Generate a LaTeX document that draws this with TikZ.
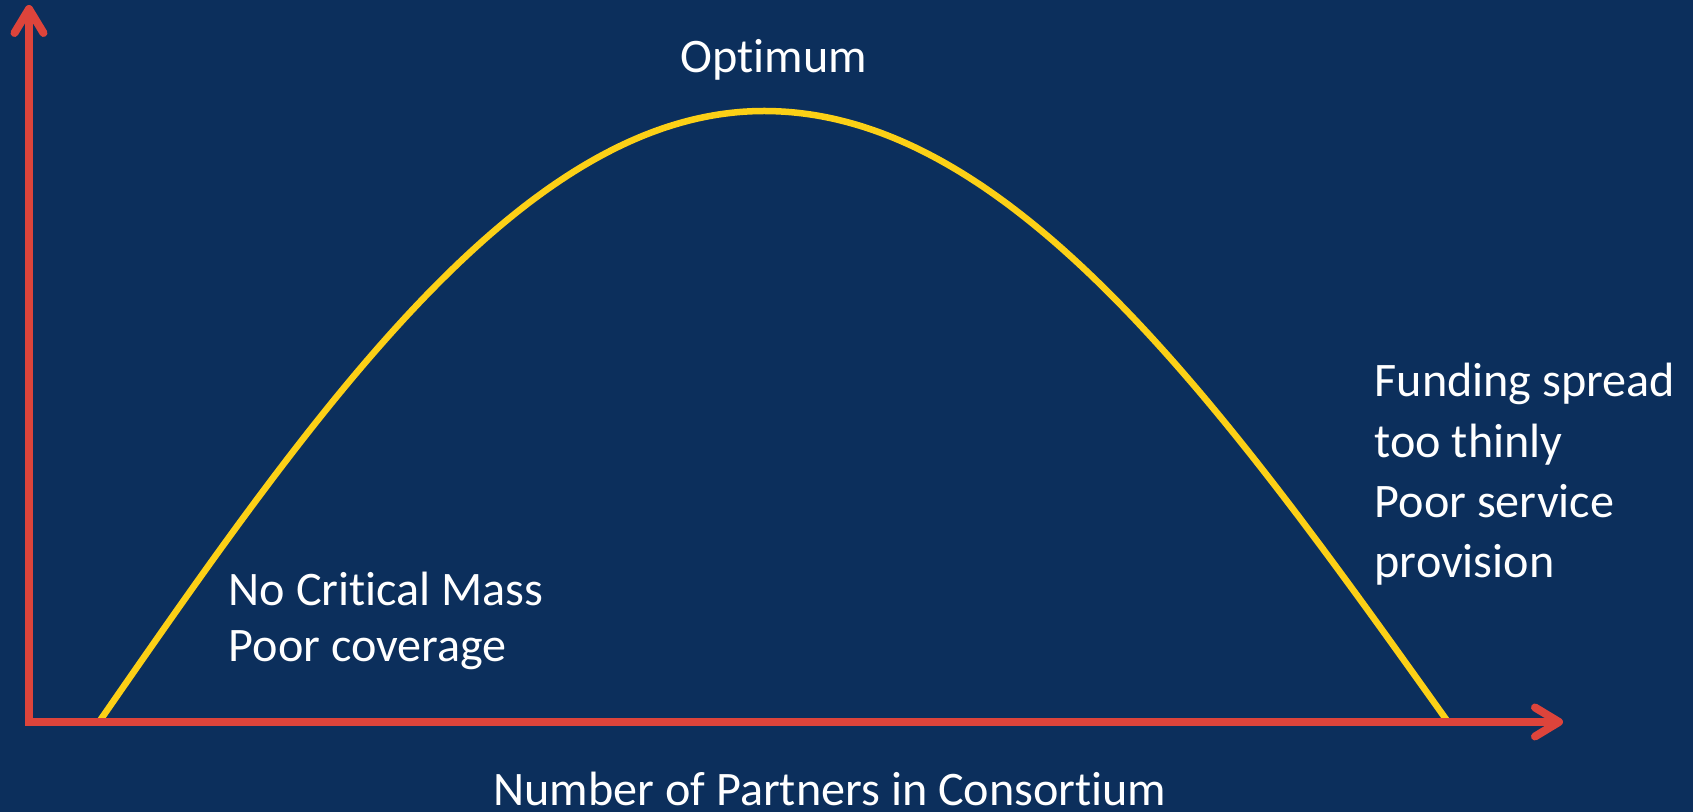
\documentclass[tikz,border=0pt]{standalone}
\usepackage{fontspec}
\setmainfont{Carlito}[Ligatures=NoCommon]
\usetikzlibrary{arrows.meta}
\definecolor{navy}{RGB}{12,47,92}
\definecolor{axisred}{RGB}{221,68,59}
\definecolor{curveyellow}{RGB}{252,208,22}

\begin{document}
\begin{tikzpicture}[
    axis/.style={axisred, line width=0.08cm, line cap=rect, -{Straight Barb[length=2.4mm, width=2.9mm, round]}},
    curve/.style={curveyellow, line width=0.065cm},
    lbl/.style={text=white, inner sep=0pt, align=left, font=\fontsize{13.7}{16.2}\selectfont}]
    \fill[navy] (-0.29,-0.90) rectangle (16.64,7.22);
    \useasboundingbox (-0.29,-0.90) rectangle (16.64,7.22);
    \coordinate (origin) at (0,0);
    \coordinate (ytip) at (0,7.17);
    \coordinate (xtip) at (15.34,0);
    \draw[curve] plot[domain=0.70:7.35, samples=60, smooth] (\x, {6.11*cos(90*(\x-7.35)/6.65)})
      -- plot[domain=7.35:14.19, samples=60, smooth] (\x, {6.11*cos(90*(\x-7.35)/6.84)});
    \draw[axis] (origin) -- (ytip);
    \draw[axis] (origin) -- (xtip);
    \node[lbl, anchor=base] (optimum) at (7.45,6.49) {Optimum};
    % base anchor of a multi-line node sits on its last line
    \node[lbl, anchor=base west] (lowlabel) at (1.99,0.60) {No Critical Mass\\Poor coverage};
    \node[lbl, anchor=base west, font=\fontsize{13.7}{17.2}\selectfont] (highlabel) at (13.45,1.44) {Funding spread\\too thinly\\Poor service\\provision};
    \node[lbl, anchor=base] (xlabel) at (8.01,-0.84) {Number of Partners in Consortium};
\end{tikzpicture}
\end{document}
